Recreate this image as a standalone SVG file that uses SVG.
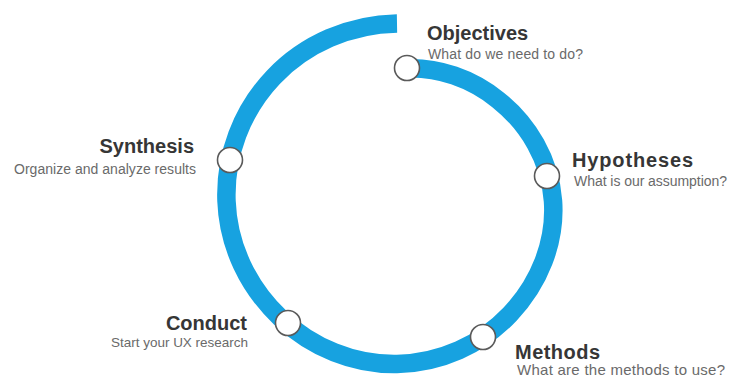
<svg xmlns="http://www.w3.org/2000/svg" width="729" height="377" viewBox="0 0 729 377">
<style>
.ring{fill:none;stroke:#17a2e0;stroke-width:18.5;stroke-linecap:butt}
.node{fill:#ffffff;stroke:#5a5a5a;stroke-width:1.6}
.t{font-family:"Liberation Sans",Arial,sans-serif;font-weight:bold;font-size:20px;fill:#363636}
.s{font-family:"Liberation Sans",Arial,sans-serif;font-size:14px;fill:#6a6a6a}
</style>
<rect width="729" height="377" fill="#ffffff"/>
<g id="connectors">
<path class="ring" d="M397,23.5 C350,24.3 305.2,43.7 273.3,77.3 C241.4,110.9 224.8,155.8 226.5,201 C228.2,246.2 248.5,287.7 280.3,317.7 C312.1,347.7 353.8,364.8 397,364 C440.2,363.2 481,344.9 510.1,314.1 C539.2,283.3 555.9,242.3 553,201 C550.1,159.7 527.9,123.7 498.1,99.9 C471,78.2 438.5,67.2 406.3,68.3"/>
</g>
<g id="objectives">
<circle class="node" cx="407" cy="68" r="12.5"/>
<text class="t" x="427" y="40">Objectives</text>
<text class="s" x="428" y="59" textLength="155">What do we need to do?</text>
</g>
<g id="hypotheses">
<circle class="node" cx="547" cy="176" r="12.5"/>
<text class="t" x="572" y="167" textLength="121">Hypotheses</text>
<text class="s" x="574" y="186" textLength="153">What is our assumption?</text>
</g>
<g id="methods">
<circle class="node" cx="483" cy="337" r="12.5"/>
<text class="t" x="515" y="359" textLength="85">Methods</text>
<text class="s" x="517" y="375" style="font-size:15px" textLength="208">What are the methods to use?</text>
</g>
<g id="conduct">
<circle class="node" cx="288" cy="323" r="12.5"/>
<text class="t" x="247" y="330" text-anchor="end">Conduct</text>
<text class="s" x="111" y="347" style="font-size:13.5px" textLength="137">Start your UX research</text>
</g>
<g id="synthesis">
<circle class="node" cx="230" cy="160" r="12.5"/>
<text class="t" x="194" y="153" text-anchor="end">Synthesis</text>
<text class="s" x="14" y="174" textLength="182">Organize and analyze results</text>
</g>
</svg>
